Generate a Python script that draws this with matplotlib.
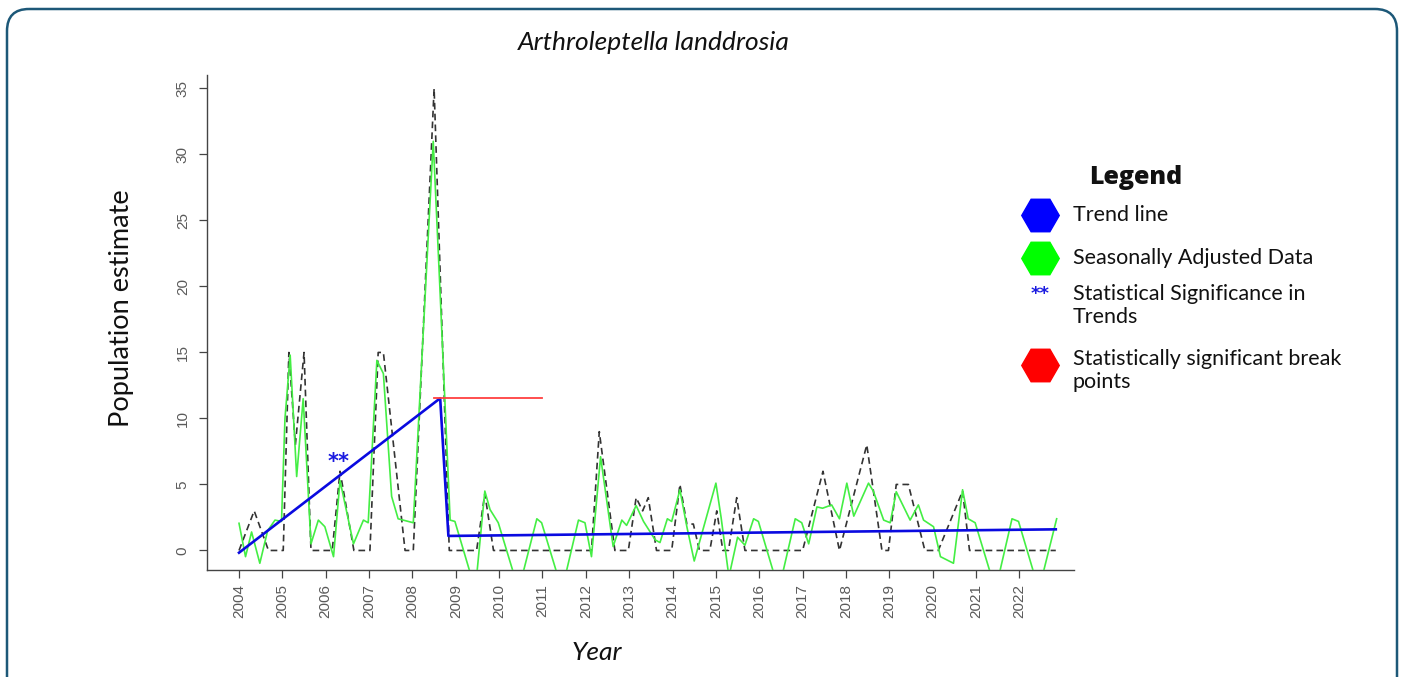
import matplotlib.pyplot as plt
from matplotlib.patches import FancyBboxPatch

# raw population estimates (dashed black)
raw_year = [2004.0, 2004.35, 2004.68, 2005.02, 2005.15, 2005.3, 2005.5, 2005.66,
            2006.15, 2006.33, 2006.65, 2007.02, 2007.21, 2007.33, 2007.83, 2008.02,
            2008.5, 2008.85, 2009.48, 2009.67, 2009.87, 2012.13, 2012.31, 2012.67,
            2012.98, 2013.16, 2013.31, 2013.44, 2013.63, 2013.98, 2014.17, 2014.33,
            2014.48, 2014.62, 2014.86, 2015.02, 2015.16, 2015.29, 2015.48, 2015.67,
            2017.0, 2017.47, 2017.85, 2018.48, 2018.83, 2018.98, 2019.16, 2019.44,
            2019.82, 2020.13, 2020.69, 2020.85, 2022.84]
raw_count = [0, 3, 0, 0, 15, 8, 15, 0,
             0, 6, 0, 0, 15, 15, 0, 0,
             35, 0, 0, 4.3, 0, 0, 9, 0,
             0, 4, 3, 4, 0, 0, 5, 2,
             2, 0, 0, 3, 0, 0, 4, 0,
             0, 6, 0, 8, 0, 0, 5, 5,
             0, 0, 4.5, 0, 0]

# seasonally adjusted series (green)
sa_year = [2004.0, 2004.15, 2004.29, 2004.48, 2004.66, 2004.83, 2004.98, 2005.06,
           2005.18, 2005.33, 2005.48, 2005.66, 2005.83, 2005.98, 2006.18, 2006.33,
           2006.64, 2006.87, 2006.98, 2007.18, 2007.33, 2007.52, 2007.67, 2008.02,
           2008.48, 2008.64, 2008.87, 2008.98, 2009.45, 2009.67, 2009.79, 2009.98,
           2010.45, 2010.87, 2010.98, 2011.45, 2011.83, 2011.98, 2012.13, 2012.34,
           2012.63, 2012.83, 2012.94, 2013.16, 2013.33, 2013.6, 2013.71, 2013.88,
           2013.98, 2014.17, 2014.33, 2014.5, 2015.0, 2015.12, 2015.3, 2015.5,
           2015.67, 2015.87, 2015.98, 2016.45, 2016.83, 2016.98, 2017.14, 2017.33,
           2017.46, 2017.67, 2017.85, 2018.02, 2018.18, 2018.52, 2018.63, 2018.87,
           2019.02, 2019.16, 2019.48, 2019.67, 2019.79, 2020.02, 2020.18, 2020.48,
           2020.69, 2020.82, 2020.98, 2021.45, 2021.83, 2021.98, 2022.45, 2022.86]
sa_value = [2.06, -0.47, 1.4, -0.97, 1.5, 2.3, 2.2, 10,
            14.8, 5.6, 11.5, 0.5, 2.3, 1.8, -0.47, 5.3,
            0.5, 2.3, 2.1, 14.4, 13.4, 4.1, 2.4, 2.1,
            31, 19.4, 2.3, 2.2, -3, 4.5, 3.1, 2.1,
            -3, 2.4, 2.1, -3, 2.3, 2.1, -0.47, 7.1,
            0.3, 2.3, 1.9, 3.4, 2.2, 0.8, 0.6, 2.4,
            2.2, 4.6, 1.8, -0.8, 5.1, 2.5, -2, 1.0,
            0.4, 2.4, 2.2, -3, 2.4, 2.1, 0.5, 3.3,
            3.2, 3.45, 2.4, 5.1, 2.6, 5.1, 4.5, 2.3,
            2.1, 4.45, 2.3, 3.45, 2.3, 1.8, -0.47, -0.97,
            4.6, 2.4, 2.1, -3, 2.4, 2.2, -3, 2.4]

# piecewise linear trend and breakpoint
trend_year = [2004.0, 2008.64, 2008.83, 2022.84]
trend_value = [-0.17, 11.53, 1.1, 1.6]
break_ci = [2008.5, 2011.0]
break_level = 11.53
signif_at = (2006.3, 6.7)

year_ticks = list(range(2004, 2023))
count_ticks = list(range(0, 36, 5))

legend_labels = ["Trend line", "Seasonally Adjusted Data",
                 "Statistical Significance in\nTrends",
                 "Statistically significant break\npoints"]

W, H = 1405, 677
fig = plt.figure(figsize=(W / 100, H / 100), dpi=100)
fig.patch.set_facecolor("white")

ax = fig.add_axes([206.5 / W, 1 - 570 / H, (1074 - 206.5) / W, (570 - 75) / H])
ax.set_facecolor("none")

ax.plot(raw_year, raw_count, color="#333333", lw=1.2, ls=(0, (4, 2.5)), zorder=2)
ax.plot(sa_year, sa_value, color="#44ee44", lw=1.2, zorder=3)
ax.plot(trend_year, trend_value, color="#0a0ae0", lw=1.9, zorder=4)
ax.plot(break_ci, [break_level, break_level], color="#ff4040", lw=1.3, zorder=4)
ax.text(signif_at[0], signif_at[1], "**", color="#1a1ae0", fontsize=15,
        fontweight="bold", ha="center", va="center", zorder=5)

ax.set_xlim(2003.25, 2023.26)
ax.set_ylim(-1.48, 36.02)
for s in ["top", "right"]:
    ax.spines[s].set_visible(False)
for s in ["left", "bottom"]:
    ax.spines[s].set_color("#444444")
    ax.spines[s].set_linewidth(1.0)

ax.set_xticks(year_ticks)
ax.set_xticklabels([str(y) for y in year_ticks], rotation=90,
                   fontfamily="Liberation Sans", fontsize=11, color="#5a5a5a")
ax.set_yticks(count_ticks)
ax.set_yticklabels([str(c) for c in count_ticks], rotation=90, va="center",
                   fontfamily="Liberation Sans", fontsize=11, color="#5a5a5a")
ax.tick_params(axis="both", direction="out", length=6, width=0.9, color="#444444")
ax.tick_params(axis="x", pad=4)
ax.tick_params(axis="y", pad=6)

# overlay in pixel space for title, labels, legend and frame
ov = fig.add_axes([0, 0, 1, 1], facecolor="none")
ov.set_xlim(0, W)
ov.set_ylim(H, 0)
ov.axis("off")

frame = FancyBboxPatch((7, 9), W - 15, H + 20, boxstyle="round,pad=0,rounding_size=22",
                       fc="none", ec="#1d5878", lw=1.8)
ov.add_patch(frame)

ov.text(654, 43, "Arthroleptella landdrosia", fontfamily="Lato", style="italic",
        fontsize=19, ha="center", va="center", color="#111111")
ov.text(122, 308, "Population estimate", fontfamily="Lato", fontsize=19.5,
        rotation=90, ha="center", va="center", color="#111111")
ov.text(597, 652, "Year", fontfamily="Lato", style="italic", fontsize=19,
        ha="center", va="center", color="#111111")

ov.text(1136, 177, "Legend", fontfamily="Open Sans", fontweight="heavy", fontsize=18,
        ha="center", va="center", color="#111111")
ov.plot(1040, 215, marker="H", ms=27, color="#0000ff", mec="#0000ff")
ov.plot(1040, 258, marker="H", ms=27, color="#00ff00", mec="#00ff00")
ov.text(1040, 294, "**", color="#1a1ae0", fontsize=13, fontweight="bold",
        ha="center", va="center")
ov.plot(1040, 365, marker="H", ms=27, color="#ff0000", mec="#ff0000")

label_y = [215, 258, 305.5, 370.5]
for y, lab in zip(label_y, legend_labels):
    ov.text(1073, y, lab, fontfamily="Lato", fontsize=15.5, ha="left", va="center",
            linespacing=1.2, color="#111111")

fig.savefig("out.png", dpi=100)
